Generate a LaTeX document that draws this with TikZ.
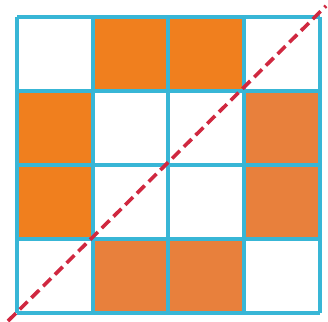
\documentclass[tikz,border=0pt]{standalone}
\begin{document}
\begin{tikzpicture}[x=1pt,y=-1pt,
  gridline/.style={draw=cyanline,line width=3.4pt},
  cellA/.style={fill=orangeA},
  cellB/.style={fill=orangeB},
  diag/.style={draw=diagred,line width=3.6pt,dash pattern=on 11pt off 5.5pt}]
\definecolor{cyanline}{HTML}{38B6D6}
\definecolor{orangeA}{HTML}{F07F1E}
\definecolor{orangeB}{HTML}{E8803C}
\definecolor{diagred}{HTML}{D02840}
\useasboundingbox (0,0) rectangle (328,321);
\fill[white] (0,0) rectangle (328,321);
% cells
\fill[cellA] (93,17) rectangle (168,91);
\fill[cellA] (168,17) rectangle (244,91);
\fill[cellA] (17,91) rectangle (93,165);
\fill[cellB] (244,91) rectangle (320,165);
\fill[cellA] (17,165) rectangle (93,239);
\fill[cellB] (244,165) rectangle (320,239);
\fill[cellB] (93,239) rectangle (168,313);
\fill[cellB] (168,239) rectangle (244,313);
% grid
\foreach \x in {17,93,168,244,320} \draw[gridline] (\x,17) -- (\x,313);
\foreach \y in {17,91,165,239,313} \draw[gridline] (17,\y) -- (320,\y);
% diagonal
\coordinate (d1) at (8,321);
\coordinate (d2) at (326,6);
\draw[diag] (d1) -- (d2);
\end{tikzpicture}
\end{document}
